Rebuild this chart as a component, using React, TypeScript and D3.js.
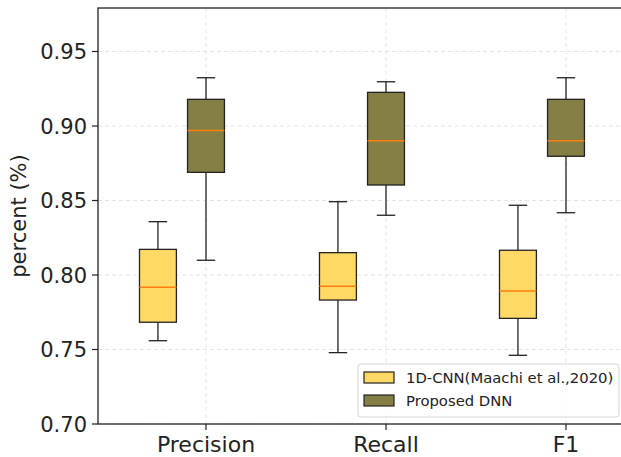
import * as d3 from "d3";

const categories = ["Precision", "Recall", "F1"];
const seriesNames = ["1D-CNN(Maachi et al.,2020)", "Proposed DNN"];
const seriesColors = ["#FFD966", "#857F45"];

// [whiskerLow, q1, median, q3, whiskerHigh] per category
const cnnStats = [
  [0.7559, 0.7683, 0.7917, 0.8172, 0.8358],
  [0.7479, 0.7832, 0.7924, 0.815, 0.8492],
  [0.7461, 0.7709, 0.7893, 0.8166, 0.8468],
];
const dnnStats = [
  [0.8099, 0.8689, 0.8969, 0.9179, 0.9324],
  [0.8401, 0.8604, 0.8901, 0.9226, 0.9297],
  [0.8418, 0.8797, 0.8901, 0.9179, 0.9324],
];
const yTicks = [0.7, 0.75, 0.8, 0.85, 0.9, 0.95];

export default function App() {
  const width = 621;
  const height = 457;
  const left = 98;
  const top = 8;
  const bottom = 424;
  const right = 674;

  const x = d3.scaleLinear().domain([0.4, 3.6]).range([left, right]);
  const y = d3.scaleLinear().domain([0.7, 0.9792]).range([bottom, top]);

  const boxW = x(1.205) - x(1);
  const series = [
    { stats: cnnStats, offset: -0.267, color: seriesColors[0] },
    { stats: dnnStats, offset: 0, color: seriesColors[1] },
  ];
  const font = "DejaVu Sans, sans-serif";

  return (
    <svg width={width} height={height} style={{ position: "absolute", left: 0, top: 0, background: "#fff" }}>
      <defs>
        <clipPath id="plot">
          <rect x={left} y={top} width={right - left} height={bottom - top} />
        </clipPath>
      </defs>
      {/* grid */}
      <g stroke="#e3e3e3" strokeWidth={1} strokeDasharray="4,3">
        {yTicks.map(t => (
          <line key={t} x1={left} x2={right} y1={y(t)} y2={y(t)} />
        ))}
        {categories.map((c, i) => (
          <line key={c} x1={x(i + 1)} x2={x(i + 1)} y1={top} y2={bottom} />
        ))}
      </g>

      {/* boxes */}
      <g clipPath="url(#plot)">
        {series.map((s, si) =>
          s.stats.map((d, i) => {
            const cx = x(i + 1 + s.offset);
            const [lo, q1, med, q3, hi] = d;
            return (
              <g key={si + "-" + i}>
                <line x1={cx} x2={cx} y1={y(q3)} y2={y(hi)} stroke="#222" strokeWidth={1.3} />
                <line x1={cx} x2={cx} y1={y(q1)} y2={y(lo)} stroke="#222" strokeWidth={1.3} />
                <line x1={cx - boxW / 4} x2={cx + boxW / 4} y1={y(hi)} y2={y(hi)} stroke="#222" strokeWidth={1.3} />
                <line x1={cx - boxW / 4} x2={cx + boxW / 4} y1={y(lo)} y2={y(lo)} stroke="#222" strokeWidth={1.3} />
                <rect
                  x={cx - boxW / 2}
                  y={y(q3)}
                  width={boxW}
                  height={y(q1) - y(q3)}
                  fill={s.color}
                  stroke="#222"
                  strokeWidth={1.3}
                />
                <line x1={cx - boxW / 2} x2={cx + boxW / 2} y1={y(med)} y2={y(med)} stroke="#FF7F0E" strokeWidth={1.5} />
              </g>
            );
          })
        )}
      </g>

      {/* frame */}
      <rect x={left} y={top} width={right - left} height={bottom - top} fill="none" stroke="#222" strokeWidth={1.3} />

      {/* y axis */}
      <g fontFamily={font} fontSize={21} fill="#222">
        {yTicks.map(t => (
          <g key={t}>
            <line x1={left - 6} x2={left} y1={y(t)} y2={y(t)} stroke="#222" strokeWidth={1.2} />
            <text x={left - 11} y={y(t)} dy="0.36em" textAnchor="end">
              {d3.format(".2f")(t)}
            </text>
          </g>
        ))}
        <text transform={`translate(26,${(top + bottom) / 2}) rotate(-90)`} textAnchor="middle">
          percent (%)
        </text>
      </g>

      {/* x axis */}
      <g fontFamily={font} fontSize={22} fill="#222">
        {categories.map((c, i) => (
          <g key={c}>
            <line x1={x(i + 1)} x2={x(i + 1)} y1={bottom} y2={bottom + 6} stroke="#222" strokeWidth={1.2} />
            <text x={x(i + 1)} y={bottom + 28} textAnchor="middle">
              {c}
            </text>
          </g>
        ))}
      </g>

      {/* legend */}
      <g fontFamily={font} fontSize={14.8} fill="#222">
        <rect x={358} y={364} width={261} height={53} rx={3} fill="#fff" fillOpacity={0.85} stroke="#d5d5d5" />
        {seriesNames.map((n, i) => (
          <g key={n} transform={`translate(364,${372 + i * 23})`}>
            <rect width={30} height={11} fill={seriesColors[i]} stroke="#222" strokeWidth={1.2} />
            <text x={42} y={5.5} dy="0.35em">
              {n}
            </text>
          </g>
        ))}
      </g>
    </svg>
  );
}
